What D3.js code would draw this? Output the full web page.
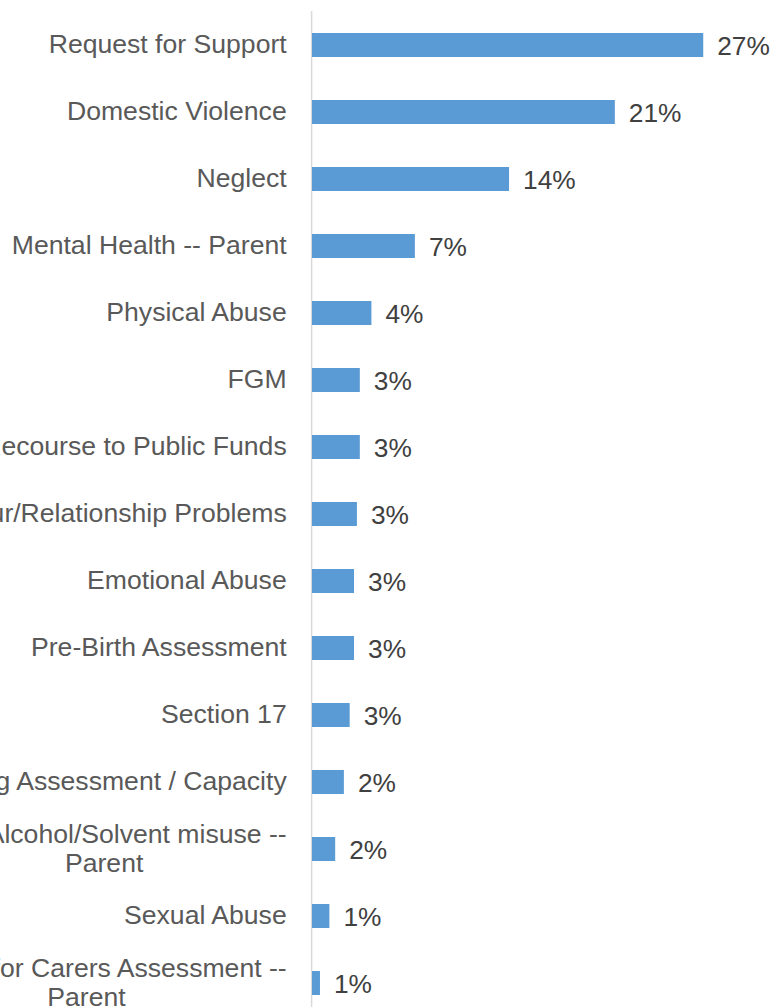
<!DOCTYPE html>
<html>
<head>
<meta charset="utf-8">
<script src="https://cdn.jsdelivr.net/npm/d3@7"></script>
<style>
  html, body { margin: 0; padding: 0; background: #ffffff; }
  svg { display: block; }
</style>
</head>
<body>
<div id="chart"></div>
<script>
// ---- data ----
const categories = [
  "Request for Support",
  "Domestic Violence",
  "Neglect",
  "Mental Health -- Parent",
  "Physical Abuse",
  "FGM",
  "No Recourse to Public Funds",
  "Behaviour/Relationship Problems",
  "Emotional Abuse",
  "Pre-Birth Assessment",
  "Section 17",
  "Parenting Assessment / Capacity",
  "Drug/Alcohol/Solvent misuse --\nParent",
  "Sexual Abuse",
  "Request for Carers Assessment --\nParent"
];
const values = [27.0, 20.9, 13.6, 7.1, 4.1, 3.3, 3.3, 3.1, 2.9, 2.9, 2.6, 2.2, 1.6, 1.2, 0.55];
const valueLabels = ["27%", "21%", "14%", "7%", "4%", "3%", "3%", "3%", "3%", "3%", "3%", "2%", "2%", "1%", "1%"];

// ---- layout ----
const W = 774, H = 1007;
const fontFamily = "'Liberation Sans', Arial, Helvetica, sans-serif";
const catFontSize = 26.6;
const valFontSize = 26.3;

const svg = d3.select("#chart").append("svg")
  .attr("width", W).attr("height", H);

const x = d3.scaleLinear().domain([0, 30]).range([312, 746.7]);
const y = d3.scaleBand()
  .domain(categories)
  .range([11.5, 11.5 + 15 * 67])
  .paddingInner(0.642)
  .paddingOuter(0.321);

// axis line
svg.append("line")
  .attr("x1", 311.6).attr("x2", 311.6)
  .attr("y1", 11).attr("y2", H)
  .attr("stroke", "#d9d9d9").attr("stroke-width", 1.5);

// bars
svg.selectAll("rect.bar")
  .data(categories)
  .enter().append("rect")
  .attr("class", "bar")
  .attr("x", x(0))
  .attr("y", d => y(d))
  .attr("width", (d, i) => x(values[i]) - x(0))
  .attr("height", y.bandwidth())
  .attr("fill", "#5b9bd5");

// value labels
svg.selectAll("text.val")
  .data(categories)
  .enter().append("text")
  .attr("class", "val")
  .attr("x", (d, i) => x(values[i]) + 14)
  .attr("y", d => y(d) + y.bandwidth() / 2 + 10)
  .attr("font-family", fontFamily)
  .attr("font-size", valFontSize)
  .attr("fill", "#404040")
  .text((d, i) => valueLabels[i]);

// category labels (right aligned block, lines centred within block)
const labelRight = 286.7;
const lineH = 29.5;
categories.forEach(cat => {
  const lines = cat.split("\n");
  const cy = y(cat) + y.bandwidth() / 2;
  const g = svg.append("g");
  const texts = lines.map((ln, k) => g.append("text")
    .attr("font-family", fontFamily)
    .attr("font-size", catFontSize)
    .attr("fill", "#595959")
    .attr("y", cy + 8.3 + (k - (lines.length - 1) / 2) * lineH)
    .text(ln));
  if (lines.length === 1) {
    texts[0].attr("x", labelRight).attr("text-anchor", "end");
  } else {
    const maxW = d3.max(texts, t => t.node().getComputedTextLength());
    texts.forEach(t => t.attr("x", labelRight - maxW / 2).attr("text-anchor", "middle"));
  }
});
</script>
</body>
</html>
